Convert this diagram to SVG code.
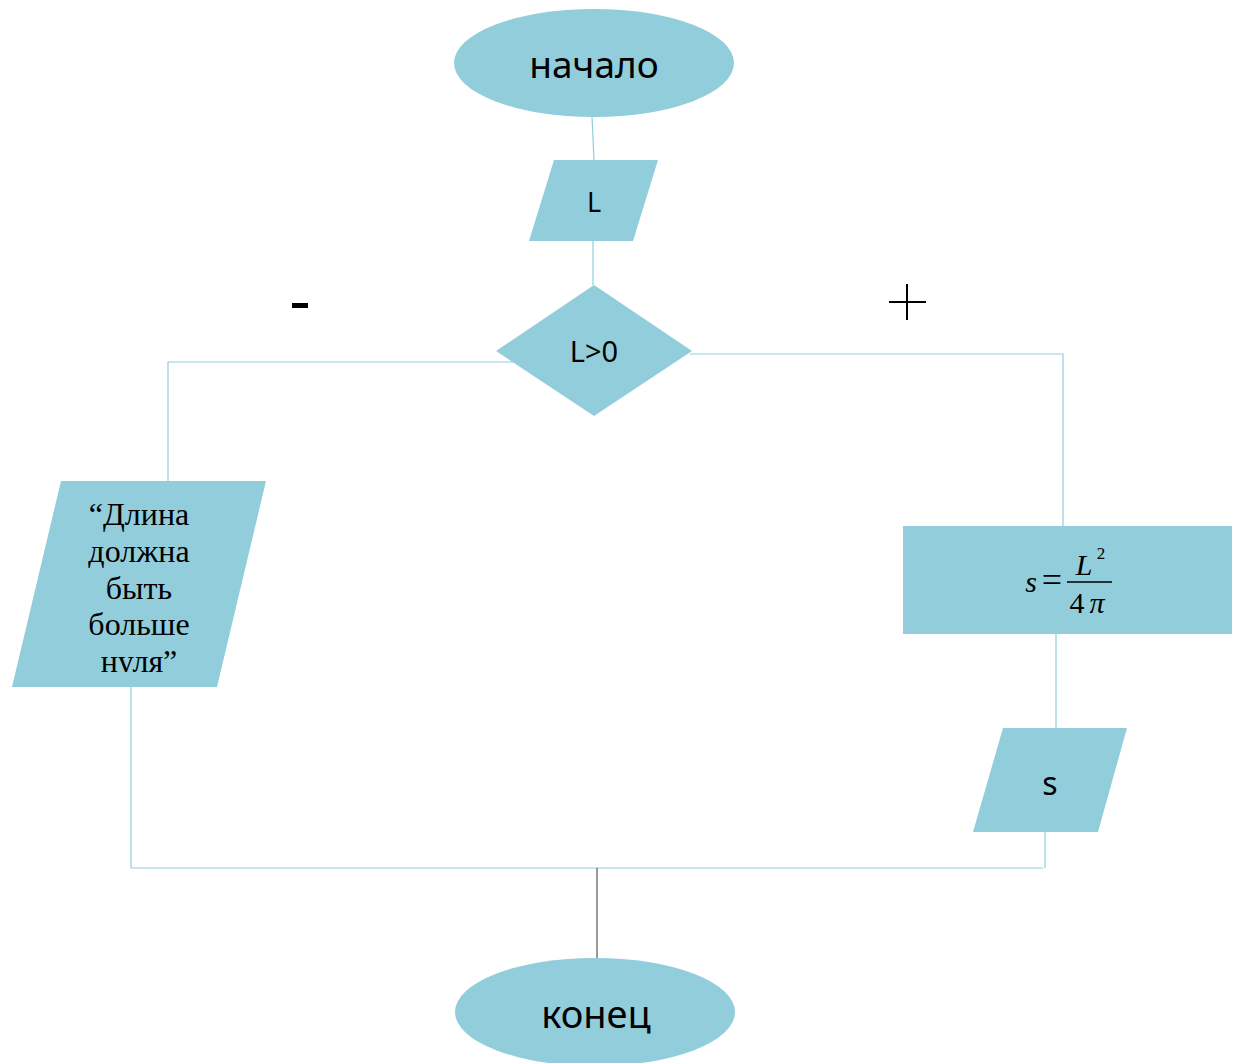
<svg xmlns="http://www.w3.org/2000/svg" width="1234" height="1063" viewBox="0 0 1234 1063">
<style>
.shape{fill:#92CDDC;stroke:none}
.conn{stroke:#92CDDC;stroke-width:1.2;fill:none}
.sans{font-family:"Noto Sans","Open Sans","DejaVu Sans",sans-serif;fill:#000;text-anchor:middle}
.serif{font-family:"Liberation Serif","Times New Roman",serif;fill:#000;text-anchor:middle}
</style>
<rect width="1234" height="1063" fill="#fff"/>
<g id="connectors">
<line class="conn" x1="592" y1="117" x2="594" y2="160"/>
<line class="conn" x1="593" y1="241" x2="593" y2="285"/>
<polyline class="conn" points="514,362 168,362 168,481"/>
<polyline class="conn" points="690,354 1063,354 1063,526"/>
<line class="conn" x1="1056" y1="634" x2="1056" y2="728"/>
<polyline class="conn" points="131,687 131,868 1043,868"/>
<line class="conn" x1="1045" y1="832" x2="1045" y2="868"/>
<line x1="597" y1="868" x2="597" y2="958" stroke="#555" stroke-width="1.2"/>
</g>
<g id="labels">
<rect x="292" y="303" width="16" height="5" fill="#000"/>
<line x1="889" y1="302" x2="926" y2="302" stroke="#000" stroke-width="2"/>
<line x1="907" y1="284" x2="907" y2="320" stroke="#000" stroke-width="2"/>
</g>
<g id="start">
<ellipse class="shape" cx="594" cy="63" rx="140" ry="54"/>
<text class="sans" x="594" y="78" font-size="37">начало</text>
</g>
<g id="input-L">
<polygon class="shape" points="554,160 658,160 633,241 529,241"/>
<text class="sans" x="594" y="212" font-size="27">L</text>
</g>
<g id="decision">
<polygon class="shape" points="594,285 692,351 594,416 496,351"/>
<text class="sans" x="594" y="362" font-size="29">L&gt;0</text>
</g>
<g id="output-error">
<polygon class="shape" points="61,481 266,481 217,687 12,687"/>
<clipPath id="clipErr"><rect x="0" y="481" width="280" height="191"/></clipPath>
<g clip-path="url(#clipErr)">
<text class="serif" font-size="32" x="139"><tspan x="139" y="525">“Длина</tspan><tspan x="139" y="562">должна</tspan><tspan x="139" y="599">быть</tspan><tspan x="139" y="635">больше</tspan><tspan x="139" y="672">нуля”</tspan></text>
</g>
</g>
<g id="compute">
<rect class="shape" x="903" y="526" width="329" height="108"/>
<text class="serif" x="1031" y="592" font-size="30" font-style="italic">s</text>
<text class="serif" x="1052" y="592" font-size="36">=</text>
<line x1="1067" y1="582" x2="1112" y2="582" stroke="#000" stroke-width="1.5"/>
<text class="serif" x="1084" y="575" font-size="30" font-style="italic">L</text>
<text class="serif" x="1101" y="559" font-size="17">2</text>
<text class="serif" x="1077" y="613" font-size="30">4</text>
<text class="serif" x="1097" y="613" font-size="30" font-style="italic">π</text>
</g>
<g id="output-s">
<polygon class="shape" points="1003,728 1127,728 1098,832 973,832"/>
<text class="sans" x="1050" y="795" font-size="32">s</text>
</g>
<g id="end">
<ellipse class="shape" cx="595" cy="1012" rx="140" ry="54"/>
<text class="sans" x="596" y="1028" font-size="38">конец</text>
</g>
</svg>
